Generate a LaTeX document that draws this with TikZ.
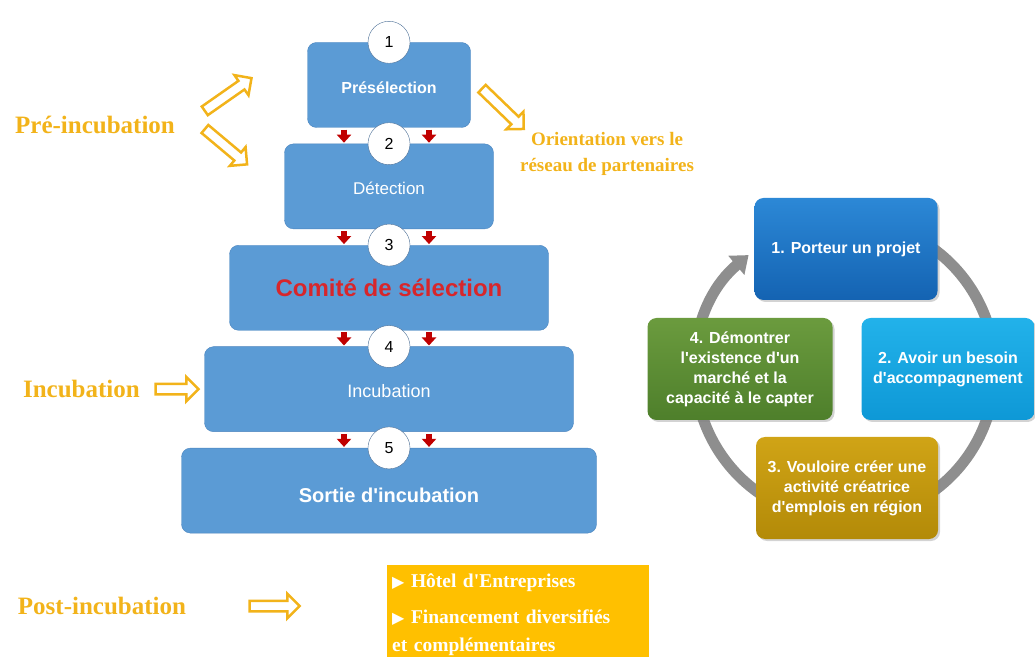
\documentclass[tikz,border=0pt]{standalone}
\usepackage{fontspec}
\setmainfont{Liberation Serif}[Ligatures=TeXOff]
\setsansfont{Liberation Sans}[Ligatures=TeXOff]
\newfontfamily\symfont{DejaVu Sans}
\usepackage{tikz}
\usetikzlibrary{positioning, shapes.arrows, arrows.meta, shadows}
\definecolor{stageblue}{HTML}{5B9BD5}
\definecolor{stageedge}{HTML}{4A84BE}
\definecolor{numedge}{HTML}{4C6F96}
\definecolor{gold}{HTML}{F2B31A}
\definecolor{comite}{HTML}{D7262B}
\definecolor{dropred}{HTML}{C00000}
\definecolor{postbox}{HTML}{FFC000}
\definecolor{ringgray}{HTML}{8E8E8E}
\definecolor{porteurtop}{HTML}{2C88D6}
\definecolor{porteurbot}{HTML}{1463B2}
\definecolor{besointop}{HTML}{22B2EA}
\definecolor{besoinbot}{HTML}{0E98D6}
\definecolor{creertop}{HTML}{D0A416}
\definecolor{creerbot}{HTML}{B38A08}
\definecolor{marchetop}{HTML}{6B9B3E}
\definecolor{marchebot}{HTML}{4E7F2B}
\tikzstyle{stage} = [rectangle, rounded corners=9pt, minimum height=85pt, text centered, draw=stageedge, fill=stageblue, text=white, text height=21pt, text depth=4pt]
\tikzstyle{num} = [circle, minimum size=42pt, inner sep=0pt, draw=numedge, fill=white, font=\sffamily\fontsize{16}{16}\selectfont]
\tikzstyle{drop} = [line width=6pt, dropred, -{Triangle[width=14pt,length=8pt]}, shorten <=2pt, shorten >=1pt]
\tikzstyle{phase} = [text=gold, font=\bfseries\fontsize{25}{25}\selectfont]
\tikzstyle{hollow} = [single arrow, draw=gold, fill=white, line width=2.5pt, inner sep=4pt, single arrow head extend=7pt]
\tikzstyle{cycbox} = [rectangle, rounded corners=9pt, minimum height=102pt, align=center, text=white, font=\sffamily\bfseries\fontsize{16}{20}\selectfont, drop shadow={opacity=0.35, shadow xshift=2pt, shadow yshift=-2pt}]
\tikzstyle{ring} = [line width=11pt, ringgray, -{Triangle[width=24pt,length=16pt]}]
\newcommand{\puce}{{\symfont\fontsize{16}{16}\selectfont ▶}}

\begin{document}
\begin{tikzpicture}[x=1pt, y=1pt, node distance=16pt]
        \useasboundingbox (0,0) rectangle (1035,656);

        % pyramide des etapes
        \node[stage, minimum width=163pt, font=\sffamily\bfseries\fontsize{16}{16}\selectfont] (stage 1) at (389,571) {Présélection};
        \node[stage, minimum width=209pt, below=of stage 1, font=\sffamily\fontsize{17}{17}\selectfont] (stage 2) {Détection};
        \node[stage, minimum width=319pt, below=of stage 2, text=comite, font=\sffamily\bfseries\fontsize{24}{24}\selectfont, text height=22pt] (stage 3) {Comité de sélection};
        \node[stage, minimum width=369pt, below=of stage 3, font=\sffamily\fontsize{18}{18}\selectfont] (stage 4) {Incubation};
        \node[stage, minimum width=415pt, below=of stage 4, font=\sffamily\bfseries\fontsize{20}{20}\selectfont, text height=27pt] (stage 5) {Sortie d'incubation};

        \foreach \i in {1,...,5}
            \node[num] (num \i) at (stage \i.north) {\i};

        \foreach \a/\b in {1/2, 2/3, 3/4, 4/5} {
            \draw[drop] ([xshift=-45pt]stage \a.south) -- ([xshift=-45pt]stage \b.north);
            \draw[drop] ([xshift=40pt]stage \a.south) -- ([xshift=40pt]stage \b.north);
        }

        % phases
        \node[phase] (pre) at (95,531) {Pré-incubation};
        \node[hollow, minimum height=57pt, rotate=35] (pre up) at (226,560) {};
        \node[hollow, minimum height=55pt, rotate=-40] (pre down) at (224,511) {};
        \node[hollow, minimum height=58pt, rotate=-44] (orient arrow) at (501,549) {};
        \node[phase, align=center, font=\bfseries\fontsize{19}{26}\selectfont] (orient) at (607,502) {Orientation vers le\\réseau de partenaires};

        \node[hollow, minimum height=43pt, left=4pt of stage 4] (inc arrow) {};
        \node[phase, left=11pt of inc arrow] (inc) {Incubation};

        \node[phase] (post) at (102,50) {Post-incubation};
        \node[hollow, minimum height=50pt] (post arrow) at (272,50) {};
        \node[fill=postbox, text=white, anchor=south west, minimum width=261pt, minimum height=99pt, text width=252pt, inner xsep=5pt, inner ysep=3pt, align=left, font=\bfseries\fontsize{19.5}{28}\selectfont] (post box) at (387,-8)
            {\puce\ Hôtel d'Entreprises\\[8pt]\puce\ Financement diversifiés\\et complémentaires};

        % cycle
        \coordinate (hub) at (845,286);
        \draw[ring] ([shift={(120:150)}]hub) arc[start angle=120, end angle=-230, radius=150];

        \node[cycbox, minimum width=183pt, top color=porteurtop, bottom color=porteurbot] (cycle 1) at (846,407) {1. Porteur un projet};
        \node[cycbox, minimum width=173pt, top color=besointop, bottom color=besoinbot] (cycle 2) at (948,287) {2. Avoir un besoin\\d'accompagnement};
        \node[cycbox, minimum width=182pt, top color=creertop, bottom color=creerbot] (cycle 3) at (847,168) {3. Vouloire créer une\\activité créatrice\\d'emplois en région};
        \node[cycbox, minimum width=185pt, top color=marchetop, bottom color=marchebot] (cycle 4) at (740,287) {4. Démontrer\\l'existence d'un\\marché et la\\capacité à le capter};
    \end{tikzpicture}
\end{document}
